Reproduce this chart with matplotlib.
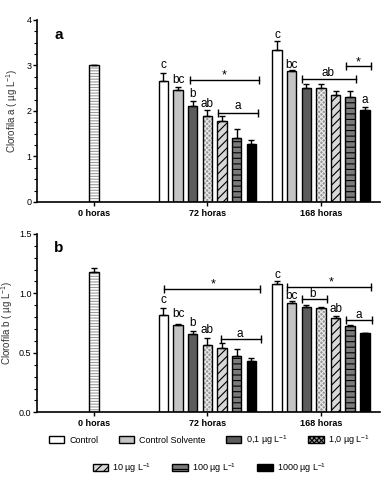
import numpy as np
import matplotlib
matplotlib.use("Agg")
import matplotlib.pyplot as plt
from matplotlib.patches import Patch
from matplotlib.ticker import MultipleLocator

plt.rcParams['font.family'] = ['Liberation Sans', 'DejaVu Sans']
plt.rcParams['mathtext.default'] = 'regular'
plt.rcParams['hatch.linewidth'] = 0.8

groups = ['0 horas', '72 horas', '168 horas']
treatments = ['Control', 'Control Solvente', '0,1 µg L$^{-1}$', '1,0 µg L$^{-1}$',
              '10 µg L$^{-1}$', '100 µg L$^{-1}$', '1000 µg L$^{-1}$']

# clorofila a
chla_0h, chla_0h_err = 3.0, 0.02
chla_72 = [2.66, 2.47, 2.11, 1.88, 1.77, 1.40, 1.28]
chla_72_err = [0.18, 0.06, 0.10, 0.14, 0.12, 0.21, 0.08]
chla_168 = [3.34, 2.87, 2.50, 2.50, 2.36, 2.30, 2.02]
chla_168_err = [0.20, 0.02, 0.10, 0.09, 0.07, 0.15, 0.06]

# clorofila b
chlb_0h, chlb_0h_err = 1.18, 0.03
chlb_72 = [0.815, 0.737, 0.655, 0.566, 0.54, 0.47, 0.434]
chlb_72_err = [0.06, 0.005, 0.03, 0.06, 0.045, 0.065, 0.02]
chlb_168 = [1.076, 0.919, 0.888, 0.874, 0.793, 0.728, 0.664]
chlb_168_err = [0.03, 0.017, 0.01, 0.014, 0.017, 0.008, 0.003]

# letters: (group, bar index, text, baseline y)
letters_a = [(1, 0, 'c', 2.95), (1, 1, 'bc', 2.61), (1, 2, 'b', 2.30), (1, 3, 'ab', 2.08),
             (2, 0, 'c', 3.61), (2, 1, 'bc', 2.94), (2, 6, 'a', 2.17)]
# brackets: (x0, x1, y, text, text x, text baseline)
brackets_a = [(0.845, 1.452, 2.69, '*', 1.15, 2.71), (1.092, 1.444, 1.96, 'a', 1.27, 2.04),
              (1.83, 2.306, 2.71, 'ab', 2.06, 2.77), (2.218, 2.438, 2.99, '*', 2.33, 3.01)]
letters_b = [(1, 0, 'c', 0.92), (1, 1, 'bc', 0.80), (1, 2, 'b', 0.725), (1, 3, 'ab', 0.664),
             (2, 0, 'c', 1.13), (2, 1, 'bc', 0.95), (2, 4, 'ab', 0.843)]
brackets_b = [(0.616, 1.461, 1.039, '*', 1.05, 1.046), (1.117, 1.47, 0.613, 'a', 1.285, 0.63),
              (1.70, 2.44, 1.056, '*', 2.086, 1.063), (1.83, 2.05, 0.95, 'b', 1.93, 0.97),
              (2.218, 2.447, 0.776, 'a', 2.33, 0.793)]

# styles (facecolor, hatch, hatch color)
styles = [('white', '', 'black'), ('#c4c4c4', '', 'black'), ('#5c5c5c', '', 'black'),
          ('#9a9a9a', 'xxxxxxx', '#e8e8e8'), ('#d8d8d8', '////', 'black'),
          ('#7a7a7a', '---', 'black'), ('black', '', 'black')]
zero_style = ('white', '------', '#9a9a9a')

step = 0.129
width = 0.084


def draw_bar(ax, x, h, err, style):
    fc, hatch, hc = style
    ax.bar(x, h, width, color=fc, hatch=hatch, edgecolor=hc, linewidth=0, zorder=2)
    ax.bar(x, h, width, fill=False, edgecolor='black', linewidth=1.0, zorder=3)
    ax.errorbar(x, h, yerr=[[0], [err]], fmt='none', ecolor='black', elinewidth=1.0,
                capsize=2.5, capthick=1.0, zorder=4)


def panel(ax, v0, e0, v72, e72, v168, e168, letters, brackets, ymax, major, minor, ylabel, tag, labx):
    draw_bar(ax, 0, v0, e0, zero_style)
    for g, vals, errs in [(1, v72, e72), (2, v168, e168)]:
        for i in range(7):
            draw_bar(ax, g + (i - 3) * step, vals[i], errs[i], styles[i])
    for g, i, t, y in letters:
        ax.text(g + (i - 3) * step, y, t, ha='center', va='baseline', fontsize=8.5)
    for x0, x1, y, t, tx, ty in brackets:
        ax.plot([x0, x1], [y, y], color='black', lw=1.0, marker='|', markersize=6,
                markeredgewidth=1.0, zorder=5)
        ax.text(tx, ty, t, ha='center', va='baseline', fontsize=9 if t == '*' else 8.5)
    ax.set_xlim(-0.5, 2.52)
    ax.set_ylim(0, ymax)
    ax.yaxis.set_major_locator(MultipleLocator(major))
    ax.yaxis.set_minor_locator(MultipleLocator(minor))
    ax.set_xticks([0, 1, 2])
    ax.set_xticklabels(groups, fontweight='bold', fontsize=6.5)
    ax.tick_params(axis='y', labelsize=6.5, length=3, width=1.0, pad=1)
    ax.tick_params(axis='y', which='minor', length=2, width=0.8)
    ax.tick_params(axis='x', length=3, width=1.0, pad=2)
    for s in ['top', 'right']:
        ax.spines[s].set_visible(False)
    for s in ['left', 'bottom']:
        ax.spines[s].set_linewidth(1.2)
    ax.set_ylabel(ylabel, fontsize=7, color='#333333')
    ax.yaxis.set_label_coords(labx, 0.5)
    ax.text(0.05, 0.92, tag, transform=ax.transAxes, fontsize=11, fontweight='bold',
            ha='left', va='center')


fig = plt.figure(figsize=(3.88, 4.86), dpi=100)
ax_a = fig.add_axes([0.0954, 0.5844, 0.884, 0.3745])
ax_b = fig.add_axes([0.0954, 0.1516, 0.884, 0.3673])

panel(ax_a, chla_0h, chla_0h_err, chla_72, chla_72_err, chla_168, chla_168_err,
      letters_a, brackets_a, 4, 1, 0.25, 'Clorofila a ( µg L$^{-1}$)', 'a', -0.05)
panel(ax_b, chlb_0h, chlb_0h_err, chlb_72, chlb_72_err, chlb_168, chlb_168_err,
      letters_b, brackets_b, 1.5, 0.5, 0.1, 'Clorofila b ( µg L$^{-1}$)', 'b', -0.065)
ax_b.yaxis.set_major_formatter(matplotlib.ticker.FormatStrFormatter('%.1f'))

handles = [Patch(facecolor=fc, hatch=h, edgecolor='black', linewidth=1.0) for fc, h, hc in styles]
leg_kw = dict(frameon=False, fontsize=6.5, handlelength=1.7, handleheight=0.9,
              handletextpad=0.5, columnspacing=2.3, borderaxespad=0)
leg1 = fig.legend(handles[:4], treatments[:4], ncol=4, loc='center',
                  bbox_to_anchor=(0.54, 0.0947), **leg_kw)
leg2 = fig.legend(handles[4:], treatments[4:], ncol=3, loc='center',
                  bbox_to_anchor=(0.54, 0.037), **leg_kw)

fig.savefig('out.png', dpi=100)
